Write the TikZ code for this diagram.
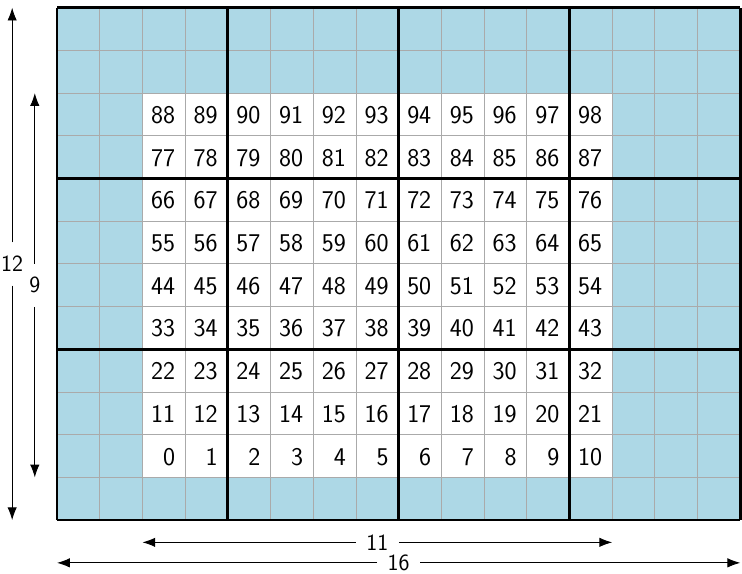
\documentclass[tikz,border=0pt]{standalone}
\usetikzlibrary{arrows.meta}
\definecolor{cellblue}{HTML}{ADD8E6}
\definecolor{gridgray}{HTML}{AAAAAA}
\begin{document}
\begin{tikzpicture}[
  cellnum/.style={anchor=base east, inner sep=0pt, font=\sffamily\fontsize{17}{20}\selectfont},
  dimlabel/.style={inner sep=0pt, minimum size=1cm, font=\sffamily\fontsize{15.5}{18}\selectfont},
  dimarrow/.style={-{Latex[length=3mm,width=2.2mm]}, line width=0.6pt}]
\useasboundingbox (-1.335,-1.24) rectangle (16.04,12.18);
% Blue frame and white block
\fill[cellblue] (0,0) rectangle (16,12);
\fill[white] (2,1) rectangle (13,10);
\draw[gridgray, line width=0.6pt] (0,0) grid (16,12);
\draw[line width=1.8pt] (0,0) grid[step=4] (16,12);
% Numbers 0..98
\foreach \r in {0,...,8} {
  \foreach \c in {0,...,10} {
    \pgfmathtruncatemacro{\n}{\r*11+\c}
    \node[cellnum] (n\n) at (2+\c+0.77, 1+\r+0.29) {\n};
  }
}
% Dimensions
\coordinate (hb) at (-1.05,0);
\coordinate (ht) at (-1.05,12);
\coordinate (wb) at (-0.52,1);
\coordinate (wt) at (-0.52,10);
\coordinate (el) at (2,-0.52);
\coordinate (er) at (13,-0.52);
\coordinate (fl) at (0,-1.0);
\coordinate (fr) at (16,-1.0);
\node[dimlabel] (l12) at (-1.05,6) {12};
\node[dimlabel] (l9) at (-0.52,5.5) {9};
\node[dimlabel] (l11) at (7.5,-0.52) {11};
\node[dimlabel] (l16) at (8,-1.0) {16};
\foreach \l/\a/\b in {l12/hb/ht, l9/wb/wt, l11/el/er, l16/fl/fr} {
  \draw[dimarrow] (\l) -- (\a);
  \draw[dimarrow] (\l) -- (\b);
}
\end{tikzpicture}
\end{document}
